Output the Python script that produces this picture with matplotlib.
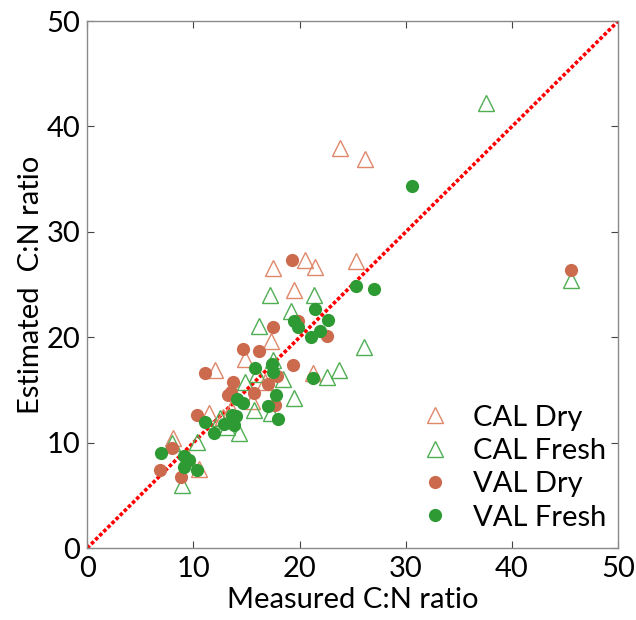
import matplotlib
matplotlib.use("Agg")
import matplotlib.pyplot as plt
import numpy as np

# CAL Dry (open orange triangles)
cal_dry_x = [23.8, 26.2, 25.3, 20.5, 21.5, 17.5, 19.5, 17.3, 14.9, 12.0, 21.3,
             11.5, 8.1, 10.5, 13.5, 15.5, 16.7, 9.5, 12.8]
cal_dry_y = [38.0, 36.9, 27.2, 27.3, 26.7, 26.6, 24.5, 19.6, 17.9, 16.9, 16.6,
             12.8, 10.4, 7.5, 13.2, 14.0, 15.8, 8.5, 12.4]

# CAL Fresh (open green triangles)
cal_fresh_x = [37.6, 45.6, 21.4, 17.2, 19.2, 16.2, 23.7, 22.6, 26.1, 14.9, 18.4,
               19.5, 15.7, 17.3, 14.3, 12.5, 10.3, 8.9, 8.0, 13.2, 16.0, 17.5]
cal_fresh_y = [42.2, 25.4, 24.0, 24.0, 22.5, 21.1, 16.9, 16.2, 19.1, 15.8, 16.0,
               14.2, 13.1, 12.8, 10.9, 12.3, 10.1, 6.0, 10.0, 11.5, 16.5, 17.8]

# VAL Dry (filled orange circles)
val_dry_x = [45.6, 19.3, 19.9, 22.6, 17.5, 14.7, 16.2, 19.4, 11.1, 17.9, 17.0,
             13.7, 13.5, 15.7, 17.7, 10.3, 8.0, 6.9, 8.8, 13.3]
val_dry_y = [26.4, 27.3, 21.5, 20.1, 21.0, 18.9, 18.7, 17.4, 16.6, 16.3, 15.6,
             15.8, 14.8, 14.7, 13.6, 12.6, 9.5, 7.4, 6.7, 14.5]

# VAL Fresh (filled green circles)
val_fresh_x = [30.6, 25.3, 27.0, 21.5, 22.7, 21.9, 19.5, 19.9, 21.1, 17.4, 15.8,
               17.5, 21.3, 14.1, 14.7, 17.8, 17.0, 18.0, 11.1, 11.9, 12.9, 13.6,
               13.8, 14.0, 7.0, 9.1, 9.6, 9.1, 10.3]
val_fresh_y = [34.4, 24.9, 24.6, 22.7, 21.6, 20.6, 21.5, 21.0, 20.0, 17.5, 17.1,
               16.7, 16.1, 14.1, 13.8, 14.5, 13.5, 12.2, 12.0, 10.9, 11.8, 12.6,
               11.7, 12.5, 9.0, 8.7, 8.4, 7.7, 7.4]

ORANGE = "#cb6a4d"
ORANGE_EDGE = "#e0876a"
GREEN = "#2e9a33"
GREEN_EDGE = "#4fae54"

plt.rcParams["font.family"] = ["Lato", "DejaVu Sans"]

fig = plt.figure(figsize=(6.36, 6.2), dpi=100)
ax = fig.add_axes([0.137, 0.116, 0.835, 0.85])

ax.plot([0, 50], [0, 50], color="#ff0000", linestyle=(0, (1, 0.6)),
        linewidth=2.6, zorder=1)

ax.plot(cal_dry_x, cal_dry_y, linestyle="none", marker="^", markersize=11,
        markerfacecolor="none", markeredgecolor=ORANGE_EDGE, markeredgewidth=1.0,
        label="CAL Dry", zorder=2)
ax.plot(cal_fresh_x, cal_fresh_y, linestyle="none", marker="^", markersize=11,
        markerfacecolor="none", markeredgecolor=GREEN_EDGE, markeredgewidth=1.0,
        label="CAL Fresh", zorder=2)
ax.plot(val_dry_x, val_dry_y, linestyle="none", marker="o", markersize=9.5,
        color=ORANGE, markeredgewidth=0, label="VAL Dry", zorder=3)
ax.plot(val_fresh_x, val_fresh_y, linestyle="none", marker="o", markersize=9.5,
        color=GREEN, markeredgewidth=0, label="VAL Fresh", zorder=3)

ax.set_xlim(0, 50)
ax.set_ylim(0, 50)
ax.set_xticks(np.arange(0, 51, 10))
ax.set_yticks(np.arange(0, 51, 10))
ax.tick_params(direction="in", length=5, width=0.8, color="#444444",
               labelsize=21, top=True, right=True)
ax.tick_params(axis="x", pad=6)
ax.tick_params(axis="y", pad=5)
for sp in ax.spines.values():
    sp.set_color("#8a8a8a")
    sp.set_linewidth(1.0)

ax.set_xlabel("Measured C:N ratio", fontsize=21, labelpad=3)
ax.set_ylabel("Estimated  C:N ratio", fontsize=21, labelpad=2)

ax.legend(loc="lower right", frameon=False, fontsize=21, handlelength=1.0,
          handletextpad=0.8, labelspacing=0.25, borderaxespad=0.2,
          bbox_to_anchor=(1.01, 0.0))

fig.savefig("out.png", dpi=100)
